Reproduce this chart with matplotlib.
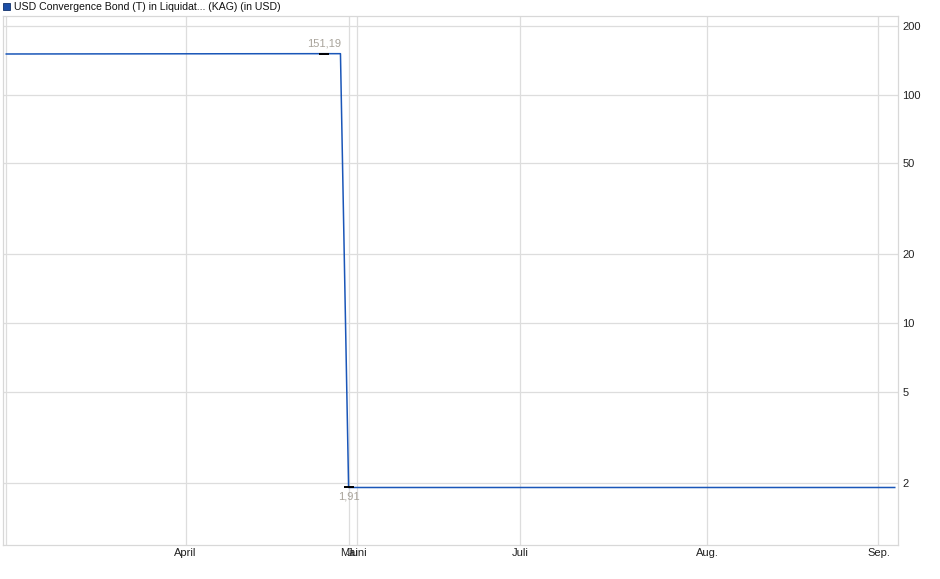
import pandas as pd
import numpy as np
import matplotlib.pyplot as plt
from matplotlib.ticker import FixedLocator, NullFormatter, NullLocator
from matplotlib.patches import Rectangle

plt.rcParams['font.family'] = ['Liberation Sans', 'DejaVu Sans']

# trading days (German holidays removed, May only has one quote)
holidays = ['2025-04-18', '2025-04-21', '2025-06-09']
days = pd.bdate_range('2025-02-28', '2025-09-03', freq='C', holidays=holidays)
days = days[(days.month != 5) | (days == pd.Timestamp('2025-05-30'))]

# NAV in USD per month
nav_feb = [150.70]
nav_mar = [150.72, 150.75, 150.74, 150.78, 150.80, 150.79, 150.82, 150.85, 150.84, 150.86, 150.88,
           150.87, 150.90, 150.92, 150.91, 150.93, 150.95, 150.96, 150.98, 150.97, 151.00]
nav_apr = [151.01, 151.02, 151.00, 151.03, 151.05, 151.06, 151.08, 151.07, 151.09, 151.10,
           151.12, 151.11, 151.13, 151.14, 151.15, 151.16, 151.17, 151.19, 151.18, 151.18]
nav_may = [1.91]
nav_jun = [1.91, 1.91, 1.91, 1.91, 1.91, 1.91, 1.91, 1.91, 1.91, 1.91,
           1.91, 1.91, 1.91, 1.91, 1.91, 1.91, 1.91, 1.91, 1.91, 1.91]
nav_jul = [1.91, 1.91, 1.91, 1.91, 1.91, 1.91, 1.91, 1.91, 1.91, 1.91, 1.91, 1.91,
           1.91, 1.91, 1.91, 1.91, 1.91, 1.91, 1.91, 1.91, 1.91, 1.91, 1.91]
nav_aug = [1.91, 1.91, 1.91, 1.91, 1.91, 1.91, 1.91, 1.91, 1.91, 1.91, 1.91,
           1.91, 1.91, 1.91, 1.91, 1.91, 1.91, 1.91, 1.91, 1.91, 1.91]
nav_sep = [1.91, 1.91, 1.91]

nav = nav_feb + nav_mar + nav_apr + nav_may + nav_jun + nav_jul + nav_aug + nav_sep
df = pd.DataFrame({'date': days[:len(nav)], 'nav': nav})
df['x'] = np.arange(len(df))

month_names = {4: 'April', 5: 'Mai', 6: 'Juni', 7: 'Juli', 8: 'Aug.', 9: 'Sep.'}
y_ticks = [2, 5, 10, 20, 50, 100, 200]

# PLOT
fig = plt.figure(figsize=(9.4, 5.79), dpi=100)
ax = fig.add_axes([3 / 940, 1 - 545 / 579, 895 / 940, 529 / 579])

ax.plot(df['x'], df['nav'], color='#1a56b8', lw=1.1, zorder=3)
ax.set_yscale('log')
ax.set_ylim(1.07, 221)
ax.set_xlim(-0.4, len(df) - 0.6)

# month starts (first gridline sits on the first quote, unlabeled)
first = df.groupby(df['date'].dt.month)['x'].min()
first = first[first.index.isin(list(month_names))]
ax.xaxis.set_major_locator(FixedLocator([0] + list(first.values)))
ax.set_xticklabels([''] + [month_names[m] for m in first.index])
ax.yaxis.set_major_locator(FixedLocator(y_ticks))
ax.yaxis.set_minor_locator(NullLocator())
ax.yaxis.set_minor_formatter(NullFormatter())
ax.set_yticklabels([str(v) for v in y_ticks])
ax.yaxis.tick_right()
ax.tick_params(axis='both', length=0, labelsize=8, colors='#222222')
ax.tick_params(axis='y', pad=3)
ax.tick_params(axis='x', pad=2.5)
ax.grid(True, color='#dddddd', lw=0.9)
for s in ax.spines.values():
    s.set_color('#d8d8d8')
    s.set_linewidth(0.9)

# max / min markers
imax = df['nav'].idxmax()
imin = df['nav'].idxmin()
ax.plot(df['x'][imax], df['nav'][imax], marker='_', ms=7, mew=1.4, color='black', zorder=4)
ax.plot(df['x'][imin], df['nav'][imin], marker='_', ms=7, mew=1.4, color='black', zorder=4)
ax.annotate('151,19', (df['x'][imax], df['nav'][imax]), xytext=(0, 4), textcoords='offset points',
            ha='center', va='bottom', fontsize=8, color='#a8a39a')
ax.annotate('1,91', (df['x'][imin], df['nav'][imin]), xytext=(0, -3), textcoords='offset points',
            ha='center', va='top', fontsize=8, color='#a8a39a')

# legend title
fig.patches.append(Rectangle((3 / 940, 1 - 10 / 579), 7 / 940, 7 / 579, transform=fig.transFigure,
                             facecolor='#1c4ea6', edgecolor='#10306a', lw=0.6))
fig.text(14 / 940, 1 - 7 / 579, 'USD Convergence Bond (T) in Liquidat... (KAG) (in USD)',
         fontsize=7.6, va='center', ha='left', color='#111111')

plt.savefig('out.png', dpi=100, facecolor='white')
